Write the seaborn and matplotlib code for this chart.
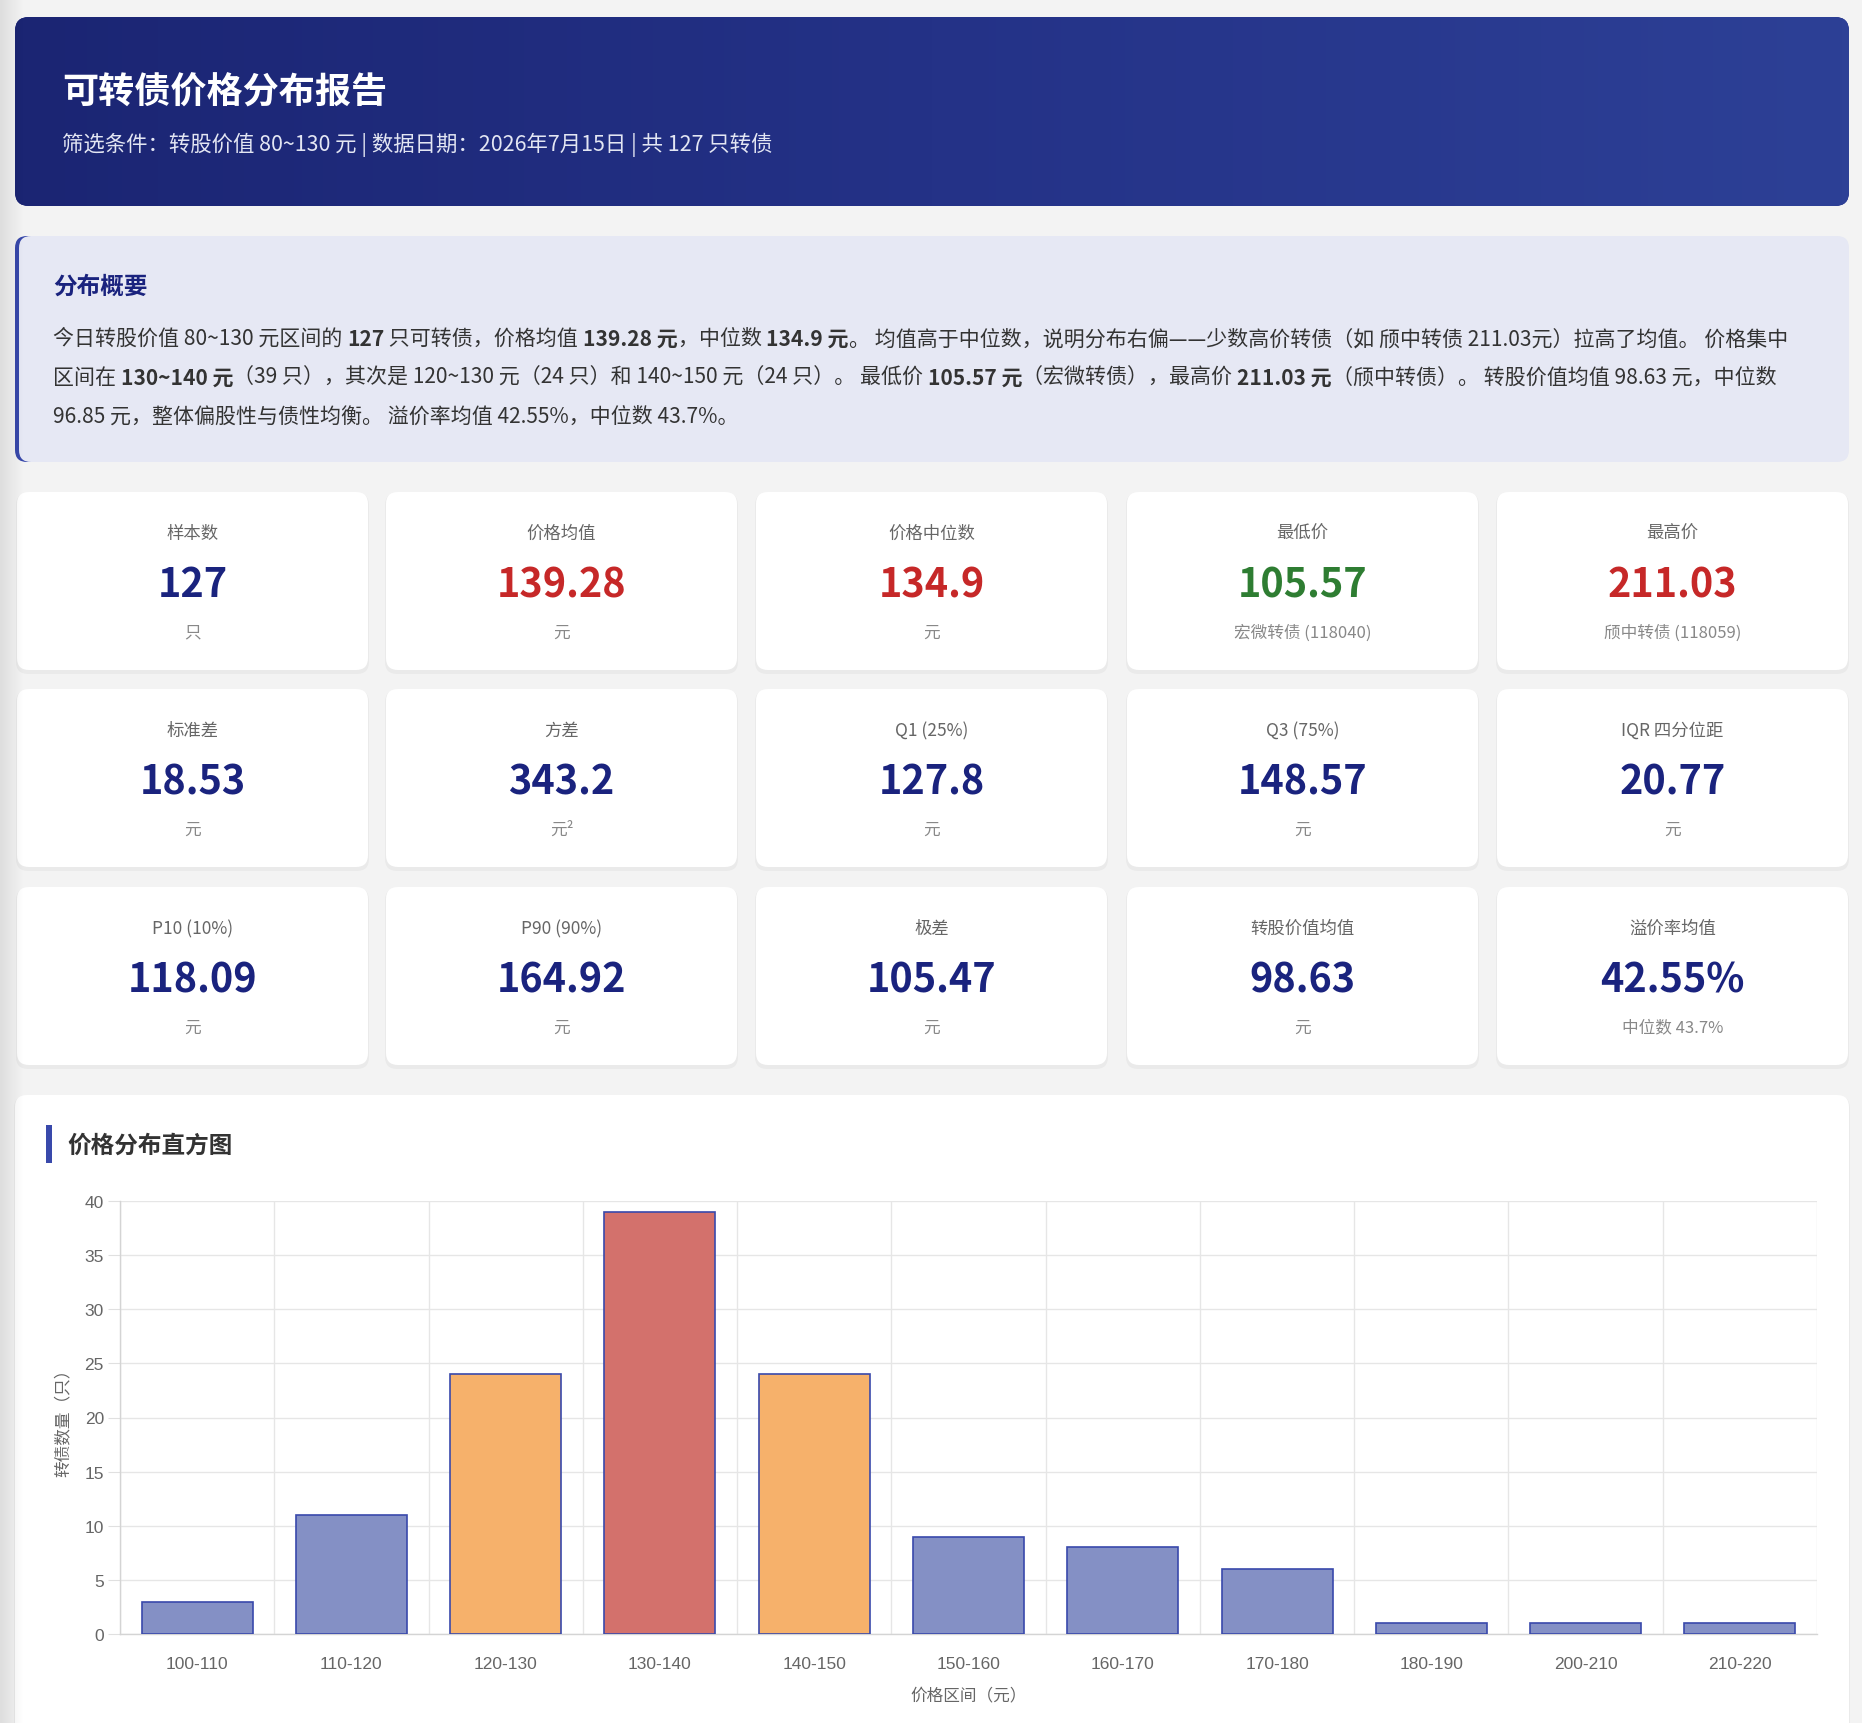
import numpy as np
import pandas as pd
import seaborn as sns
import matplotlib.pyplot as plt
from matplotlib.patches import FancyBboxPatch, Rectangle
from matplotlib.colors import LinearSegmentedColormap

# ---- data ----
bins = ['100-110', '110-120', '120-130', '130-140', '140-150', '150-160',
        '160-170', '170-180', '180-190', '200-210', '210-220']
counts = [3, 11, 24, 39, 24, 9, 8, 6, 1, 1, 1]
y_ticks = [0, 5, 10, 15, 20, 25, 30, 35, 40]

title = '可转债价格分布报告'
subtitle = '筛选条件：转股价值 80~130 元 | 数据日期：2026年7月15日 | 共 127 只转债'

card_labels = ['样本数', '价格均值', '价格中位数', '最低价', '最高价',
               '标准差', '方差', 'Q1 (25%)', 'Q3 (75%)', 'IQR 四分位距',
               'P10 (10%)', 'P90 (90%)', '极差', '转股价值均值', '溢价率均值']
card_values = ['127', '139.28', '134.9', '105.57', '211.03',
               '18.53', '343.2', '127.8', '148.57', '20.77',
               '118.09', '164.92', '105.47', '98.63', '42.55%']
card_units = ['只', '元', '元', '宏微转债 (118040)', '颀中转债 (118059)',
              '元', '元²', '元', '元', '元',
              '元', '元', '元', '元', '中位数 43.7%']

summary_lines = [
    [('今日转股价值 80~130 元区间的 ', False), ('127', True), (' 只可转债，价格均值 ', False),
     ('139.28 元', True), ('，中位数 ', False), ('134.9 元', True),
     ('。 均值高于中位数，说明分布右偏——少数高价转债（如 颀中转债 211.03元）拉高了均值。 价格集中', False)],
    [('区间在 ', False), ('130~140 元', True),
     ('（39 只），其次是 120~130 元（24 只）和 140~150 元（24 只）。 最低价 ', False),
     ('105.57 元', True), ('（宏微转债），最高价 ', False), ('211.03 元', True),
     ('（颀中转债）。 转股价值均值 98.63 元，中位数', False)],
    [('96.85 元，整体偏股性与债性均衡。 溢价率均值 42.55%，中位数 43.7%。', False)],
]

# ---- style ----
sns.set_theme(style='white')
plt.rcParams['font.family'] = ['Noto Sans CJK SC', 'DejaVu Sans']
TICK_FONT = ['Liberation Sans', 'Noto Sans CJK SC']

W, H = 1862, 1724
NAVY = '#1a237e'
BLUE = '#3949ab'
fig = plt.figure(figsize=(W / 100, H / 100), dpi=100, facecolor='#f3f3f3')
bg = fig.add_axes([0, 0, 1, 1])
bg.set_xlim(0, W)
bg.set_ylim(H, 0)
bg.axis('off')


def rbox(x, y, w, h, color, r=12, z=1, **kw):
    p = FancyBboxPatch((x, y), w, h, boxstyle=f'round,pad=0,rounding_size={r}',
                       fc=color, ec='none', zorder=z, **kw)
    bg.add_patch(p)
    return p


def card(x, y, w, h, r=12):
    rbox(x - 1, y + 1, w + 2, h + 3, '#000000', r=r, z=1, alpha=0.035)
    rbox(x, y, w, h, 'white', r=r, z=2)


# header with gradient
hdr = rbox(15, 18, 1834, 189, NAVY, r=14)
grad = np.linspace(0, 1, 256).reshape(1, -1)
cmap = LinearSegmentedColormap.from_list('hdr', ['#1b2573', '#243287', '#2d4096'])
im = bg.imshow(grad, cmap=cmap, extent=(15, 1849, 207, 18), aspect='auto', zorder=2)
im.set_clip_path(hdr)
bg.text(62, 93, title, color='white', fontsize=26, fontweight='bold', va='center', zorder=3)
bg.text(62, 145, subtitle, color='#e3e6f3', fontsize=15.4, va='center', zorder=3)

# summary box (left accent border)
rbox(15, 237, 80, 226, BLUE, r=12)
rbox(19, 237, 1830, 226, '#e6e8f4', r=12, z=2)
bg.text(53, 287, '分布概要', color=NAVY, fontsize=17, fontweight='bold', va='center', zorder=3)

fig.canvas.draw()
renderer = fig.canvas.get_renderer()
for i, segs in enumerate(summary_lines):
    x = 53
    y = 339 + i * 39
    for txt, bold in segs:
        t = bg.text(x, y, txt, color='#333333', fontsize=15.1, va='center',
                    fontweight='bold' if bold else 'normal', zorder=3)
        x += t.get_window_extent(renderer=renderer).width

# stat cards
col_x = [17, 386, 756, 1127, 1497]
row_y = [493, 690, 888]
cw, ch = 351, 178
value_colors = {1: '#c62828', 2: '#c62828', 3: '#2e7d32', 4: '#c62828'}
for k, (lab, val, unit) in enumerate(zip(card_labels, card_values, card_units)):
    cx, cy = col_x[k % 5], row_y[k // 5]
    card(cx, cy, cw, ch)
    mx = cx + cw / 2
    bg.text(mx, cy + 41, lab, color='#666666', fontsize=12.5, ha='center', va='center', zorder=3)
    bg.text(mx, cy + 93, val, color=value_colors.get(k, NAVY), fontsize=28.5,
            fontweight='bold', ha='center', va='center', zorder=3)
    bg.text(mx, cy + 140, unit, color='#888888', fontsize=12, ha='center', va='center', zorder=3)

# chart card
card(15, 1096, 1834, 660)
bg.add_patch(Rectangle((46, 1126), 6, 38, fc=BLUE, ec='none', zorder=3))
bg.text(67, 1146, '价格分布直方图', color='#333333', fontsize=17, fontweight='bold',
        va='center', zorder=3)

# left page shade
shade = np.linspace(1, 0, 64).reshape(1, -1)
bg.imshow(shade, cmap=LinearSegmentedColormap.from_list('sh', [(0, 0, 0, 0), (0, 0, 0, 0.09)]),
          extent=(0, 24, H, 0), aspect='auto', zorder=5)

# ---- histogram ----
ax = fig.add_axes([120 / W, (H - 1635) / H, (1817 - 120) / W, (1635 - 1202) / H])
ax.set_facecolor('white')
df = pd.DataFrame({'bin': bins, 'count': counts})
ranked = sorted(set(counts), reverse=True)
palette = {}
for b, c in zip(bins, counts):
    if c == ranked[0]:
        palette[b] = '#d3716c'
    elif c == ranked[1]:
        palette[b] = '#f6b16b'
    else:
        palette[b] = '#8490c5'
sns.barplot(data=df, x='bin', y='count', hue='bin', palette=palette, legend=False,
            saturation=1, width=0.72, edgecolor=BLUE, linewidth=1.2, ax=ax, zorder=3)

ax.set_xlim(-0.5, len(bins) - 0.5)
ax.set_ylim(0, 40)
ax.set_xticks(range(len(bins)), labels=bins, fontfamily=TICK_FONT)
ax.set_yticks(y_ticks, labels=[str(v) for v in y_ticks], fontfamily=TICK_FONT)
ax.set_xticks(np.arange(-0.5, len(bins), 1.0), minor=True)
ax.grid(False)
ax.yaxis.grid(True, color='#e6e6e6', lw=1, zorder=0)
ax.xaxis.grid(True, which='minor', color='#e6e6e6', lw=1, zorder=0)
for s in ['top', 'right']:
    ax.spines[s].set_visible(False)
for s in ['left', 'bottom']:
    ax.spines[s].set_color('#d4d4d4')
    ax.spines[s].set_linewidth(1)
ax.tick_params(axis='x', which='major', length=0, pad=16, labelsize=12.5, labelcolor='#666666')
ax.tick_params(axis='x', which='minor', length=8.6, width=0.8, color='#e0e0e0', direction='out')
ax.tick_params(axis='y', which='major', length=8.6, width=0.8, color='#e0e0e0', pad=3,
               labelsize=12.5, labelcolor='#666666', left=True)
ax.set_xlabel('价格区间（元）', fontsize=12, color='#666666', labelpad=11)
ax.set_ylabel('转债数量（只）', fontsize=12, color='#666666', labelpad=9)

fig.savefig('out.png', dpi=100, facecolor=fig.get_facecolor())
